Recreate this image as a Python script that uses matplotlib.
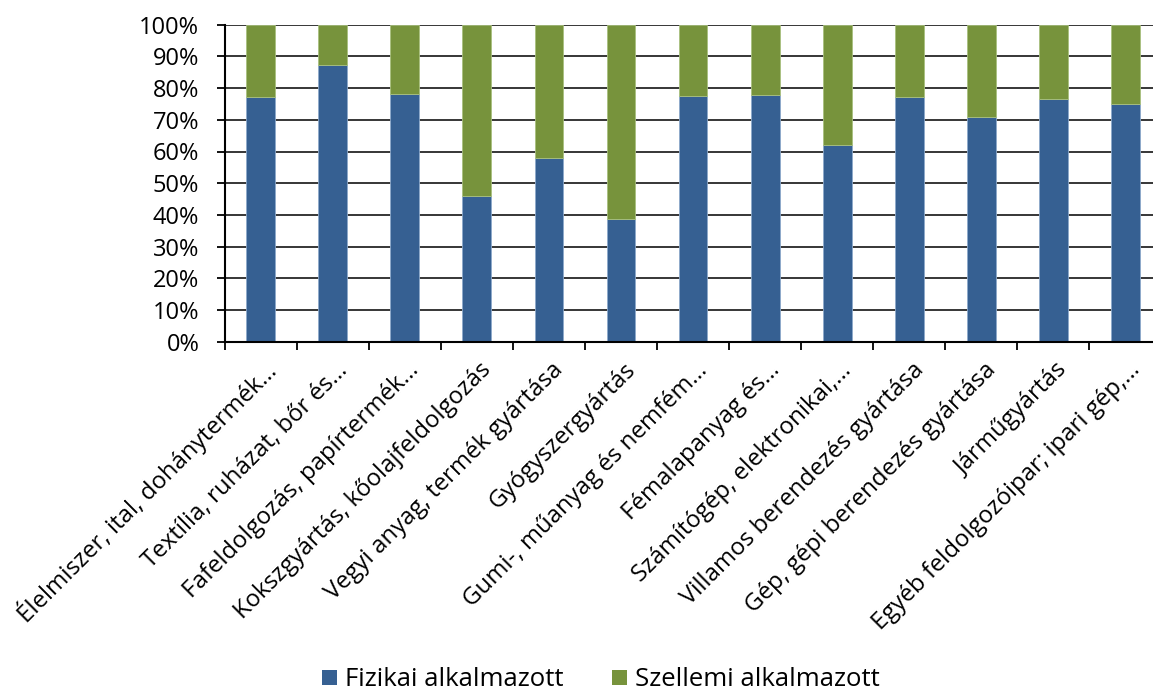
import numpy as np
import matplotlib
matplotlib.use("Agg")
import matplotlib.pyplot as plt
from matplotlib.patches import Patch
from matplotlib.ticker import FixedLocator, PercentFormatter
from matplotlib.transforms import ScaledTranslation

plt.rcParams['font.family'] = ['Open Sans', 'DejaVu Sans']

agazatok = [
    "Élelmiszer, ital, dohánytermék…",
    "Textília, ruházat, bőr és…",
    "Fafeldolgozás, papírtermék…",
    "Kokszgyártás, kőolajfeldolgozás",
    "Vegyi anyag, termék gyártása",
    "Gyógyszergyártás",
    "Gumi-, műanyag és nemfém…",
    "Fémalapanyag és…",
    "Számítógép, elektronikai,…",
    "Villamos berendezés gyártása",
    "Gép, gépi berendezés gyártása",
    "Járműgyártás",
    "Egyéb feldolgozóipar; ipari gép,…",
]
fizikai = [77.3, 87.4, 78.2, 46.1, 58.0, 38.7, 77.6, 77.9, 62.1, 77.3, 71.0, 76.7, 75.1]
szellemi = [100 - v for v in fizikai]

kek = "#366092"
zold = "#77933C"

fig = plt.figure(figsize=(11.53, 6.91), dpi=100)
ax = fig.add_axes([224.7 / 1153, 349.3 / 691, 936.7 / 1153, 317.0 / 691])

x = np.arange(len(agazatok))
ax.bar(x, fizikai, width=0.4, color=kek, edgecolor="#8eaacb", linewidth=0.6, zorder=3)
ax.bar(x, szellemi, width=0.4, bottom=fizikai, color=zold, edgecolor="#a9c07e", linewidth=0.6, zorder=3)

ax.set_xlim(-0.5, len(agazatok) - 0.5)
ax.set_ylim(0, 100)
ax.set_yticks(np.arange(0, 101, 10))
ax.yaxis.set_major_formatter(PercentFormatter(decimals=0))
ax.yaxis.grid(True, color="black", linewidth=1.1, zorder=1)

# category boundaries carry the tick marks, labels sit under the bars
ax.xaxis.set_major_locator(FixedLocator(np.arange(-0.5, len(agazatok), 1)))
ax.xaxis.set_major_formatter(plt.NullFormatter())
ax.xaxis.set_minor_locator(FixedLocator(x))
ax.set_xticklabels(agazatok, minor=True, rotation=45, ha="right", va="center",
                   rotation_mode="anchor", fontsize=17.3)
ax.tick_params(axis="x", which="major", length=6, width=1.3, direction="out")
ax.tick_params(axis="x", which="minor", length=0, pad=0)
ax.tick_params(axis="y", length=5.8, width=1.3, labelsize=17, pad=12.5)

eltolas = ScaledTranslation(11 / 100, -25 / 100, fig.dpi_scale_trans)
for lbl in ax.get_xticklabels(minor=True):
    lbl.set_transform(lbl.get_transform() + eltolas)

for side in ("top", "right"):
    ax.spines[side].set_visible(False)
for side in ("left", "bottom"):
    ax.spines[side].set_linewidth(1.5)
    ax.spines[side].set_zorder(4)

handles = [Patch(facecolor=kek, label="Fizikai alkalmazott"),
           Patch(facecolor=zold, label="Szellemi alkalmazott")]
fig.legend(handles=handles, loc="center", bbox_to_anchor=(0.521, 0.016), ncol=2,
           frameon=False, fontsize=18.5, handlelength=0.6, handleheight=0.5,
           handletextpad=0.3, columnspacing=1.9)

fig.savefig("out.png", dpi=100)
